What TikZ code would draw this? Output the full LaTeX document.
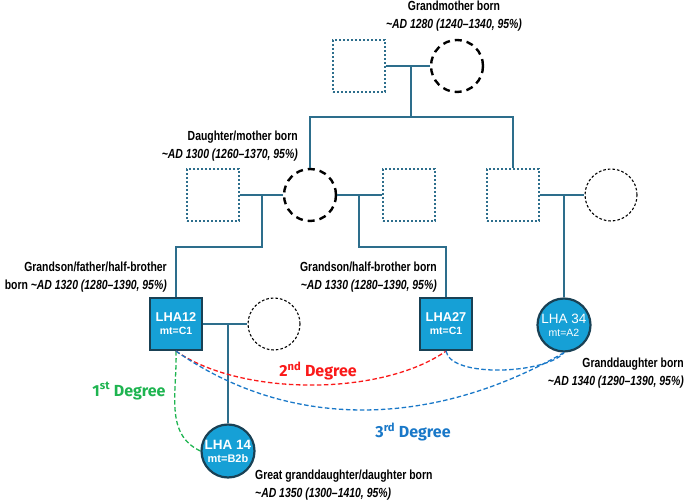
\documentclass[tikz,border=0pt]{standalone}
\usepackage{fontspec}
\setmainfont{Liberation Sans}
\newfontfamily\narrowfont[FakeStretch=0.79]{Liberation Sans}
\newfontfamily\degfont{Fira Sans}
\usetikzlibrary{positioning, calc}
\definecolor{lnTeal}  {RGB}{45,  110, 140}
\definecolor{lhaFill} {RGB}{22,  160, 214}
\definecolor{lhaEdge} {RGB}{25,  65,  85}
\definecolor{degRed}  {RGB}{250, 25,  25}
\definecolor{degGreen}{RGB}{30,  180, 80}
\definecolor{degBlue} {RGB}{25,  120, 200}

\begin{document}
\begin{tikzpicture}[x=1pt, y=1pt,
  famLine/.style={draw=lnTeal, line width=1.6pt},
  ghostSq/.style={rectangle, draw=lnTeal, line width=1.3pt, dash pattern=on 2.4pt off 1.6pt,
    minimum size=52pt, inner sep=0pt},
  ghostCirc/.style={circle, draw=black, line width=1.1pt, dash pattern=on 2.6pt off 2pt,
    minimum size=52pt, inner sep=0pt},
  motherCirc/.style={circle, draw=black, line width=2.4pt, dash pattern=on 7pt off 5pt,
    minimum size=52pt, inner sep=0pt},
  lhaSq/.style={rectangle, fill=lhaFill, draw=lhaEdge, line width=2.2pt, minimum size=52pt,
    inner sep=0pt, text=white, align=center, font=\bfseries\fontsize{12.8}{15}\selectfont},
  lhaCirc/.style={circle, fill=lhaFill, draw=lhaEdge, line width=2.2pt, minimum size=53pt,
    inner sep=0pt, text=white, align=center},
  dateLbl/.style={font=\narrowfont\bfseries\fontsize{13.2}{17.5}\selectfont, inner sep=0pt},
  degLink/.style={line width=1.3pt, dash pattern=on 4.5pt off 2.5pt},
  degLbl/.style={font=\degfont\bfseries\fontsize{16}{18}\selectfont}]
  \useasboundingbox (0,0) rectangle (685,500);

  % ---- Generation 1: grandparents ----
  \node[ghostSq]    (gf) at (359,434) {};
  \node[motherCirc] (gm) at (457,434) {};
  \draw[famLine] (gf) -- (gm);
  \coordinate (jTop)  at (411,434);
  \coordinate (jTopB) at (411,383);

  % ---- Generation 2: daughter/mother and her siblings ----
  \node[ghostSq]    (fa1) at (213,305) {};
  \node[motherCirc] (mo)  at (310,305) {};
  \node[ghostSq]    (fa2) at (409,305) {};
  \node[ghostSq]    (un)  at (513,305) {};
  \node[ghostCirc]  (unW) at (611,305) {};
  \draw[famLine] (jTop) -- (jTopB);
  \draw[famLine] (mo.north) |- (jTopB) -| (un.north);
  \draw[famLine] (fa1) -- (mo);
  \draw[famLine] (mo) -- (fa2);
  \draw[famLine] (un) -- (unW);
  \coordinate (jL)  at (262,305);
  \coordinate (jLB) at (262,253);
  \coordinate (jR)  at (359,305);
  \coordinate (jRB) at (359,253);
  \coordinate (jU)  at (564,305);

  % ---- Generation 3: sampled individuals ----
  \node[lhaSq] (lha12) at (176,176) {LHA12\\[-2pt]{\fontsize{10.5}{12}\selectfont mt=C1}};
  \node[ghostCirc] (p12) at (274,176) {};
  \node[lhaSq] (lha27) at (446,176) {LHA27\\[-2pt]{\fontsize{10.5}{12}\selectfont mt=C1}};
  \node[lhaCirc, font=\fontsize{13.5}{15}\selectfont] (lha34) at (564,175)
    {LHA 34\\[-2pt]{\fontsize{10.5}{12}\selectfont mt=A2}};
  \draw[famLine] (jL) -- (jLB) -| (lha12.north);
  \draw[famLine] (jR) -- (jRB) -| (lha27.north);
  \draw[famLine] (jU) -- (lha34.north);
  \draw[famLine] (lha12) -- (p12);
  \coordinate (jB) at (228,176);

  % ---- Generation 4 ----
  \node[lhaCirc, font=\bfseries\fontsize{13.5}{15}\selectfont] (lha14) at (228,49)
    {LHA 14\\[-2pt]{\fontsize{11}{12}\selectfont mt=B2b}};
  \draw[famLine] (jB) -- (lha14.north);

  % ---- Degree links ----
  \draw[degLink, degGreen] (lha12.south) to[out=-88, in=155] (lha14.west);
  \draw[degLink, degRed] (lha12.south) to[out=-35, in=-145, looseness=0.75] (lha27.south);
  \draw[degLink, degBlue] (lha12.south) to[out=-35, in=-150, looseness=0.95] (lha34.south);
  \draw[degLink, degBlue] (lha27.south) to[out=-80, in=-130, looseness=0.6] (lha34.south);
  \node[degLbl, text=degGreen] (d1) at (129,109) {1\textsuperscript{st} Degree};
  \node[degLbl, text=degRed]   (d2) at (318,129) {2\textsuperscript{nd} Degree};
  \node[degLbl, text=degBlue]  (d3) at (413,68)  {3\textsuperscript{rd} Degree};

  % ---- Birth date labels ----
  \node[dateLbl, align=center] (lblGm) at (454,484)
    {Grandmother born\\\itshape\textasciitilde AD 1280 (1240–1340, 95\%)};
  \node[dateLbl, align=right, anchor=east] (lblMo) at (298,354)
    {Daughter/mother born\\\itshape\textasciitilde AD 1300 (1260–1370, 95\%)};
  \node[dateLbl, align=right, anchor=east] (lbl12) at (167,223)
    {Grandson/father/half-brother\\born {\itshape\textasciitilde AD 1320 (1280–1390, 95\%)}};
  \node[dateLbl, align=right, anchor=east] (lbl27) at (437,223)
    {Grandson/half-brother born\\\itshape\textasciitilde AD 1330 (1280–1390, 95\%)};
  \node[dateLbl, align=right, anchor=east] (lbl34) at (684,127)
    {Granddaughter born\\\itshape\textasciitilde AD 1340 (1290–1390, 95\%)};
  \node[dateLbl, align=left, anchor=west] (lbl14) at (255,15)
    {Great granddaughter/daughter born\\\itshape\textasciitilde AD 1350 (1300–1410, 95\%)};
\end{tikzpicture}
\end{document}
